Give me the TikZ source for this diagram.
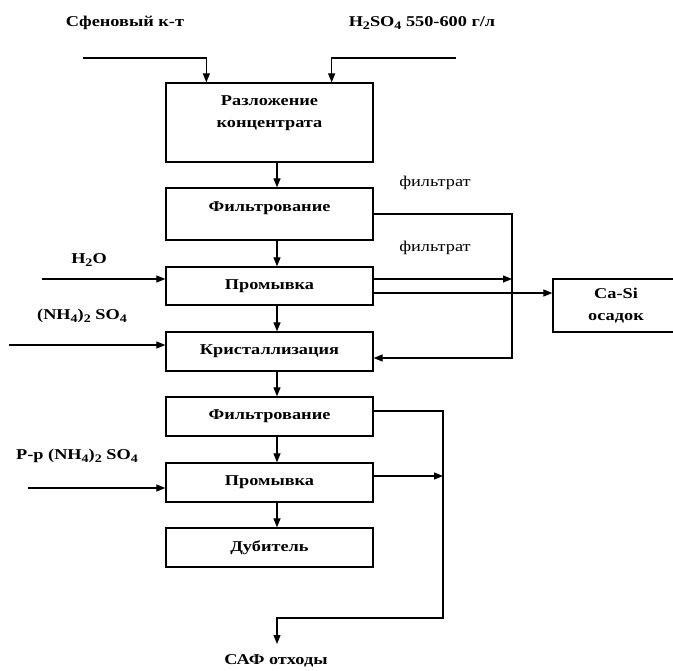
\documentclass[tikz,border=0pt]{standalone}
\usepackage{fontspec}
\setmainfont{Liberation Serif}[FakeStretch=1.22]
\usetikzlibrary{arrows.meta,calc}
\newcommand{\mysub}[1]{\raisebox{-0.35ex}{\fontsize{11.5}{11.5}\selectfont #1}}
\begin{document}
\begin{tikzpicture}[x=1pt,y=-1pt,
  every node/.style={font=\fontsize{15}{21.5}\selectfont\bfseries, inner sep=0pt},
  procbox/.style={draw, line width=1.3pt, minimum width=207pt, align=center},
  plain/.style={font=\fontsize{15}{21}\selectfont},
  arr/.style={-{Triangle[length=9pt,width=7pt]}},
  conn/.style={line width=1.2pt}
]
\useasboundingbox (0,0) rectangle (673,671);
\clip (0,0) rectangle (673,671);

% boxes
\node[procbox, minimum height=79pt] (b1) at (269.5,122.5) {};
\node[align=center] (t1) at (269.5,113) {Разложение\\концентрата};
\node[procbox, minimum height=52pt] (b2) at (269.5,214) {};
\node (t2) at (269.5,208) {Фильтрование};
\node[procbox, minimum height=38pt] (b3) at (269.5,286) {Промывка};
\node[procbox, minimum height=39pt] (b4) at (269.5,351.5) {Кристаллизация};
\node[procbox, minimum height=39pt] (b5) at (269.5,416.5) {Фильтрование};
\node[procbox, minimum height=39pt] (b6) at (269.5,482.5) {Промывка};
\node[procbox, minimum height=39pt] (b7) at (269.5,547.5) {Дубитель};
\node[draw, line width=1.3pt, minimum width=126pt, minimum height=53pt, align=center] (ca) at (616,305.5) {Ca-Si\\осадок};

% labels
\node (l1) at (125,23) {Сфеновый к-т};
\node (l2) at (422,23) {H\mysub{2}SO\mysub{4} 550-600 г/л};
\node[plain] (f1) at (435,183) {фильтрат};
\node[plain] (f2) at (435,248) {фильтрат};
\node (l3) at (89,260) {H\mysub{2}O};
\node (l4) at (82,316) {(NH\mysub{4})\mysub{2} SO\mysub{4}};
\node (l5) at (77,456) {Р-р (NH\mysub{4})\mysub{2} SO\mysub{4}};
\node (l6) at (276,661) {САФ отходы};

% helper coordinates
\coordinate (ax) at (277,0);
\coordinate (in1) at (83,58);
\coordinate (in2) at (456,58);
\coordinate (v1) at (512,0);
\coordinate (w1) at (42,279);
\coordinate (w2) at (9,345);
\coordinate (w3) at (28,488);
\coordinate (bot) at (443,618);
\coordinate (out) at (277,644);
\coordinate (p3a) at ($(b3.east)+(0,-7)$);
\coordinate (p3b) at ($(b3.east)+(0,7)$);
\coordinate (p4) at ($(b4.east)+(0,6.5)$);
\coordinate (p5) at ($(b5.east)+(0,-5.5)$);
\coordinate (p6) at ($(b6.east)+(0,-6.5)$);

% connectors
\draw[conn,arr] (in1) -| ($(b1.north west)+(41,0)$);
\draw[conn,arr] (in2) -| ($(b1.north east)+(-42,0)$);
\foreach \a/\b in {b1/b2,b2/b3,b3/b4,b4/b5,b5/b6,b6/b7}
  \draw[conn,arr] (\a.south -| ax) -- (\b.north -| ax);
\draw[conn,arr] (b2.east) -- (b2.east -| v1) -- (p4 -| v1) -- (p4);
\draw[conn,arr] (p3a) -- (p3a -| v1);
\draw[conn,arr] (p3b) -- (p3b -| ca.west);
\draw[conn,arr] (w1) -- (w1 -| b3.west);
\draw[conn,arr] (w2) -- (w2 -| b4.west);
\draw[conn,arr] (w3) -- (w3 -| b6.west);
\draw[conn,arr] (p5) -- (p5 -| bot) -- (bot) -- (bot -| ax) -- (out);
\draw[conn,arr] (p6) -- (p6 -| bot);
\end{tikzpicture}
\end{document}
